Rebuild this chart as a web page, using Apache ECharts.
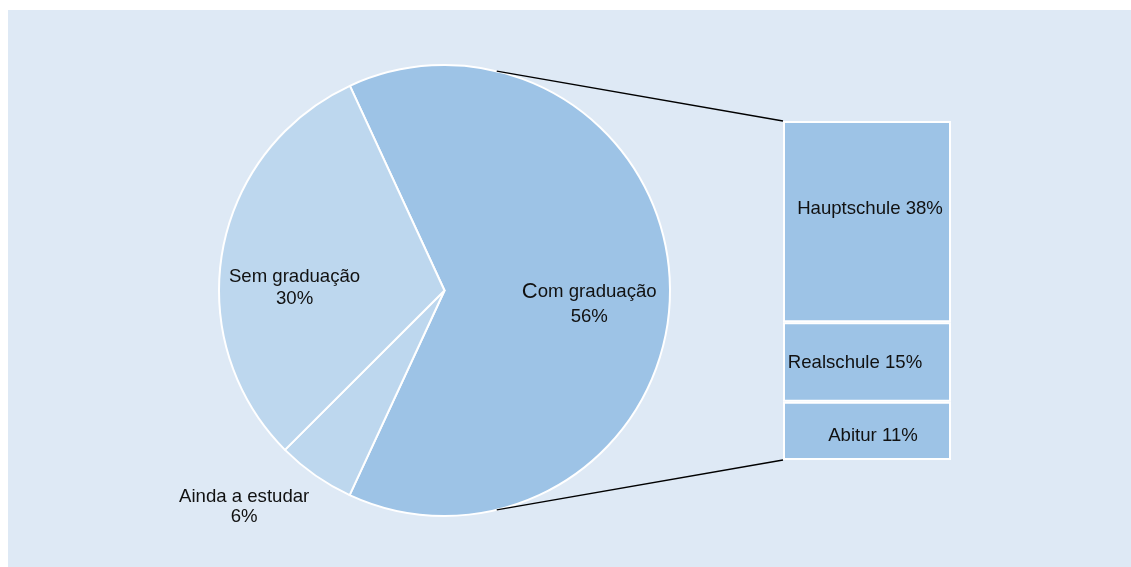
<!DOCTYPE html>
<html>
<head>
<meta charset="utf-8">
<script src="https://cdn.jsdelivr.net/npm/echarts@6/dist/echarts.min.js"></script>
<style>
html,body{margin:0;padding:0;background:#fff;}
#c{width:1131px;height:567px;}
</style>
</head>
<body>
<div id="c"></div>
<script>
// ---- data ----
var pieCategories = ['Com graduação', 'Ainda a estudar', 'Sem graduação'];
var pieValues = [63.8, 5.6, 30.6];      // shares as drawn (slice angles)
var pieLabels = ['56%', '6%', '30%'];   // percentages as printed
var barCategories = ['Abitur', 'Realschule', 'Hauptschule'];
var barValues = [11, 15, 38];
var barLabels = ['11%', '15%', '38%'];

// ---- layout ----
var W = 1131, H = 567;
var cx = 444.5, cy = 290.5, R = 225.5;
var startAngle = 114.8;
var gridLeft = 783, gridTop = 121, gridW = 168, gridH = 339;
var dark = '#9dc3e6', light = '#bdd7ee', bg = '#dee9f5';
var font = '"Liberation Sans", Arial, sans-serif';
var fs = 18.6;

var sliceColors = [dark, light, light];
var labelOffsets = [[29, 14], [-134, 122], [-36, 18]];
var labelHeights = [25, 20, 22];

var pieData = pieCategories.map(function (name, i) {
  var fmt;
  if (i === 0) {
    fmt = '{c|' + name.charAt(0) + '}{n|' + name.slice(1) + '}\n{n|' + pieLabels[i] + '}';
  } else {
    fmt = '{n|' + name + '}\n{n|' + pieLabels[i] + '}';
  }
  return {
    name: name,
    value: pieValues[i],
    itemStyle: { color: sliceColors[i] },
    label: {
      formatter: fmt,
      offset: labelOffsets[i],
      rich: {
        c: { fontSize: 22, fontFamily: font, color: '#111', lineHeight: labelHeights[i] },
        n: { fontSize: fs, fontFamily: font, color: '#111', lineHeight: labelHeights[i] }
      }
    }
  };
});

var total = barValues.reduce(function (a, b) { return a + b; }, 0);
var barOffsets = [[6, 5], [-12, 1], [3, -13]];
var barSeries = barCategories.map(function (name, i) {
  return {
    type: 'bar',
    name: name,
    stack: 'sub',
    barWidth: '100%',
    data: [barValues[i]],
    itemStyle: { color: dark, borderColor: '#fff', borderWidth: 2 },
    label: {
      show: true,
      position: 'inside',
      offset: barOffsets[i],
      formatter: name + ' ' + barLabels[i],
      fontSize: fs,
      fontFamily: font,
      color: '#111'
    },
    silent: true,
    animation: false
  };
});

var chart = echarts.init(document.getElementById('c'), null, { renderer: 'canvas' });
var option = {
  backgroundColor: '#fff',
  animation: false,
  grid: { left: gridLeft, top: gridTop, width: gridW, height: gridH },
  xAxis: { type: 'category', data: ['sub'], show: false, boundaryGap: true },
  yAxis: { type: 'value', min: 0, max: total, show: false },
  series: [{
    type: 'pie',
    center: [cx, cy],
    radius: [0, R],
    startAngle: startAngle,
    clockwise: true,
    avoidLabelOverlap: false,
    silent: true,
    itemStyle: { borderColor: '#fff', borderWidth: 2 },
    label: { show: true, position: 'inside', align: 'center' },
    labelLine: { show: false },
    data: pieData
  }].concat(barSeries),
  graphic: [{
    type: 'rect', z: -10, silent: true,
    shape: { x: 8, y: 10, width: W - 8, height: H - 10 },
    style: { fill: bg }
  }]
};
chart.setOption(option);

// connector lines from pie edge to the bar's corners
var yTop = chart.convertToPixel({ yAxisIndex: 0 }, total);
var yBot = chart.convertToPixel({ yAxisIndex: 0 }, 0);
var a = 13.4 * Math.PI / 180;
var px = cx + R * Math.sin(a);
var pyTop = cy - R * Math.cos(a);
var pyBot = cy + R * Math.cos(a);
chart.setOption({
  graphic: [
    { type: 'rect', z: -10, silent: true, shape: { x: 8, y: 10, width: W - 8, height: H - 10 }, style: { fill: bg } },
    { type: 'line', z: 5, silent: true, shape: { x1: px, y1: pyTop, x2: gridLeft, y2: yTop }, style: { stroke: '#000', lineWidth: 1.3 } },
    { type: 'line', z: 5, silent: true, shape: { x1: px, y1: pyBot, x2: gridLeft, y2: yBot }, style: { stroke: '#000', lineWidth: 1.3 } }
  ]
}, { replaceMerge: ['graphic'] });
</script>
</body>
</html>
